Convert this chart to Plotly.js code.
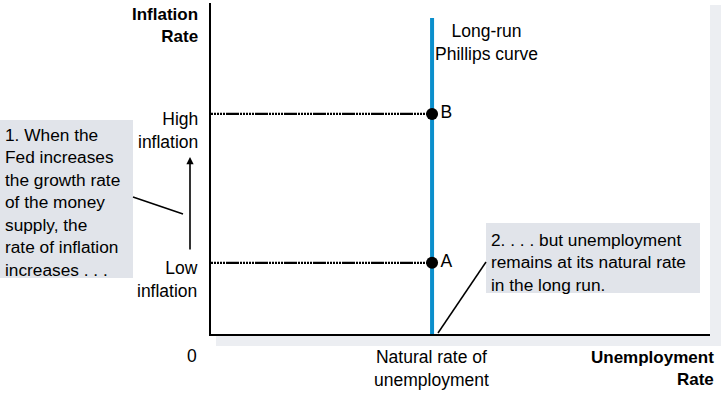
<!DOCTYPE html>
<html>
<head>
<meta charset="utf-8">
<script src="https://cdn.plot.ly/plotly-3.0.1.min.js"></script>
<style>html,body{margin:0;padding:0;background:#fff;}#chart{width:721px;height:393px;}</style>
</head>
<body>
<div id="chart"></div>
<script>
// ---- data ----
const naturalRate = 4.43;            // natural rate of unemployment (x position)
const lrpcY = [0, 9.55];             // long-run Phillips curve extent
const pointLabels = ['B', 'A'];
const pointInflation = [6.65, 2.15]; // high, low inflation
const yLevelLabels = ['High<br>inflation', 'Low<br>inflation'];
const xTickLabels = ['0', 'Natural rate of<br>unemployment'];
const yAxisTitle = 'Inflation<br>Rate';
const xAxisTitle = 'Unemployment<br>Rate';
const curveLabel = 'Long-run<br>Phillips curve';
const note1 = '1. When the<br>Fed increases<br>the growth rate<br>of the money<br>supply, the<br>rate of inflation<br>increases . . .';
const note2 = '2. . . . but unemployment<br>remains at its natural rate<br>in the long run.';

// ---- layout geometry ----
const W = 721, H = 393;
const L = 211, R = 710, T = 3, B = 334;
const px = v => (v - L) / (R - L);
const py = v => (B - v) / (B - T);
const FONT = 'Liberation Sans, Arial, sans-serif';
const blue = '#0b8fcc';
const dash = '2px,1px,2px,1px,2px,1px,2px,1px,2px,1px,13px,1px';

const traces = [];
pointInflation.forEach(v => {
  traces.push({x: [0, naturalRate], y: [v, v], mode: 'lines', type: 'scatter',
    line: {color: '#000', width: 2.2, dash: dash}, hoverinfo: 'skip', showlegend: false, cliponaxis: false});
});
traces.push({x: [naturalRate, naturalRate], y: lrpcY, mode: 'lines', type: 'scatter',
  line: {color: blue, width: 4}, hoverinfo: 'skip', showlegend: false});
traces.push({x: pointInflation.map(() => naturalRate), y: pointInflation, mode: 'markers+text', type: 'scatter',
  text: pointLabels, textposition: 'middle right', textfont: {family: FONT, size: 17.5, color: '#000'},
  marker: {color: '#000', size: 12}, hoverinfo: 'skip', showlegend: false, cliponaxis: false});

const f = (size, bold) => ({family: FONT, size: size, color: '#000', weight: bold ? 'bold' : 'normal'});

const annotations = [
  {xref: 'paper', yref: 'paper', x: px(200), y: py(26), xanchor: 'right', yanchor: 'middle', align: 'right',
   text: '<b>' + yAxisTitle + '</b>', showarrow: false, font: f(17, true)},
  {xref: 'paper', yref: 'paper', x: px(200), y: py(130), xanchor: 'right', yanchor: 'middle', align: 'right',
   text: yLevelLabels[0], showarrow: false, font: f(17.5)},
  {xref: 'paper', yref: 'paper', x: px(200), y: py(279), xanchor: 'right', yanchor: 'middle', align: 'right',
   text: yLevelLabels[1], showarrow: false, font: f(17.5)},
  {xref: 'paper', yref: 'paper', x: px(190), y: py(157), text: '', showarrow: true, ax: 0, ay: 94,
   arrowhead: 2, arrowsize: 0.9, arrowwidth: 1.6, arrowcolor: '#000', standoff: 0},
  {xref: 'paper', yref: 'paper', x: px(3), y: py(202), xanchor: 'left', yanchor: 'middle', align: 'left',
   text: note1, showarrow: false, font: f(17.3)},
  {xref: 'paper', yref: 'paper', x: px(486), y: py(42), xanchor: 'center', yanchor: 'middle', align: 'center',
   text: curveLabel, showarrow: false, font: f(17.5)},
  {xref: 'paper', yref: 'paper', x: px(489), y: py(262), xanchor: 'left', yanchor: 'middle', align: 'left',
   text: note2, showarrow: false, font: f(17.3)},
  {xref: 'paper', yref: 'paper', x: px(192), y: py(356), xanchor: 'center', yanchor: 'middle',
   text: xTickLabels[0], showarrow: false, font: f(17.5)},
  {xref: 'paper', yref: 'paper', x: px(431), y: py(368), xanchor: 'center', yanchor: 'middle', align: 'center',
   text: xTickLabels[1], showarrow: false, font: f(17.5)},
  {xref: 'paper', yref: 'paper', x: px(716), y: py(368), xanchor: 'right', yanchor: 'middle', align: 'right',
   text: '<b>' + xAxisTitle + '</b>', showarrow: false, font: f(17, true)}
];

const shapes = [
  // drop shadow and white plot panel
  {type: 'rect', xref: 'paper', yref: 'paper', layer: 'below', x0: px(216), x1: px(721), y0: py(346), y1: py(5),
   fillcolor: '#eceef2', line: {width: 0}},
  {type: 'rect', xref: 'paper', yref: 'paper', layer: 'below', x0: px(L), x1: px(R), y0: py(B), y1: py(T),
   fillcolor: '#ffffff', line: {width: 0}},
  // note boxes
  {type: 'rect', xref: 'paper', yref: 'paper', layer: 'below', x0: px(0), x1: px(133), y0: py(278), y1: py(120),
   fillcolor: '#e1e4ea', line: {width: 0}},
  {type: 'rect', xref: 'paper', yref: 'paper', layer: 'above', x0: px(486), x1: px(700), y0: py(293), y1: py(223),
   fillcolor: '#e1e4ea', line: {width: 0}},
  // connectors
  {type: 'line', xref: 'paper', yref: 'paper', x0: px(133), y0: py(197), x1: px(183), y1: py(214),
   line: {color: '#000', width: 1.5}},
  {type: 'line', xref: 'paper', yref: 'paper', x0: px(486), y0: py(262), x1: px(438), y1: py(333),
   line: {color: '#000', width: 1.5}}
];

const layout = {
  width: W, height: H,
  margin: {l: L, r: W - R, t: T, b: H - B, pad: 0},
  paper_bgcolor: 'rgba(0,0,0,0)', plot_bgcolor: 'rgba(0,0,0,0)',
  xaxis: {range: [0, 10], showgrid: false, zeroline: false, showticklabels: false, ticks: '',
          showline: true, linecolor: '#000', linewidth: 2, fixedrange: true},
  yaxis: {range: [0, 10], showgrid: false, zeroline: false, showticklabels: false, ticks: '',
          showline: true, linecolor: '#000', linewidth: 2, fixedrange: true},
  shapes: shapes,
  annotations: annotations,
  showlegend: false,
  font: {family: FONT}
};

Plotly.newPlot('chart', traces, layout, {displayModeBar: false, staticPlot: true});
</script>
</body>
</html>
